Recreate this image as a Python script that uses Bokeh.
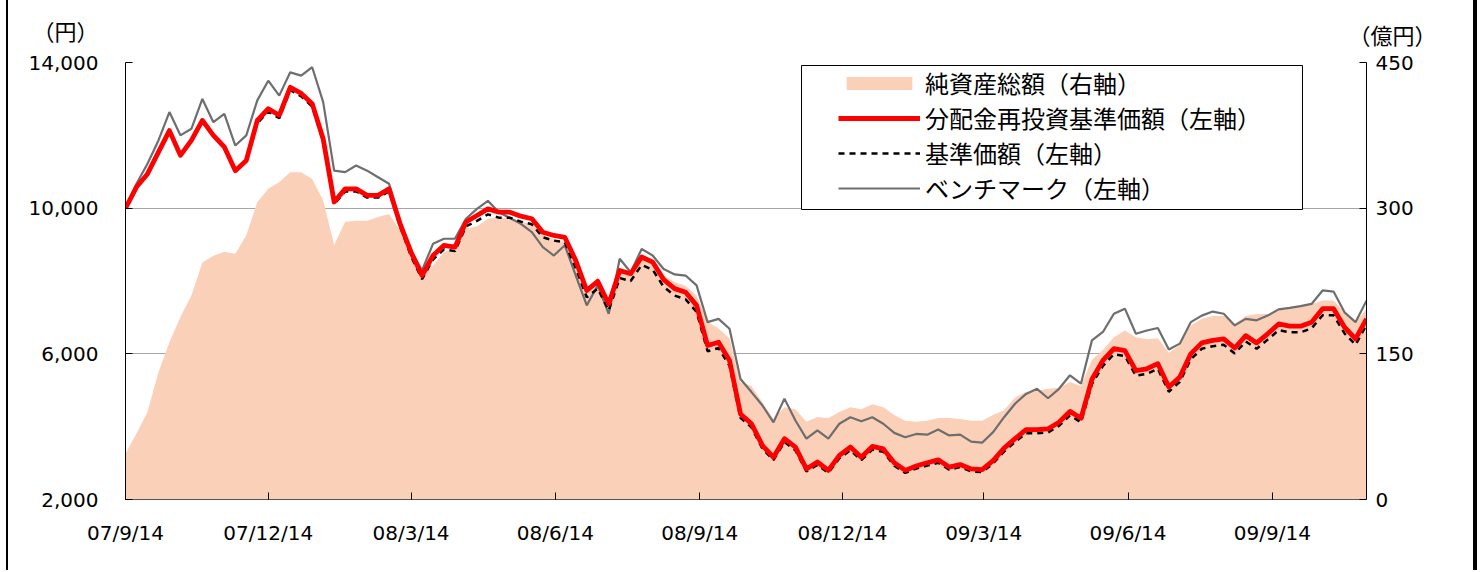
import pandas as pd
from bokeh.plotting import figure
from bokeh.layouts import column
from bokeh.models import (Range1d, LinearAxis, FixedTicker, NumeralTickFormatter,
                          Legend, LegendItem, BoxAnnotation)
from bokeh.core.properties import value
from bokeh.embed import file_html
from bokeh.resources import INLINE

# ---------------- data ----------------
start_date = "2007-09-14"
end_date = "2009-11-13"
tick_dates = ["2007-09-14", "2007-12-14", "2008-03-14", "2008-06-14", "2008-09-14",
              "2008-12-14", "2009-03-14", "2009-06-14", "2009-09-14"]
tick_labels = ["07/9/14", "07/12/14", "08/3/14", "08/6/14", "08/9/14",
               "08/12/14", "09/3/14", "09/6/14", "09/9/14"]
left_ticks = [2000, 6000, 10000, 14000]
right_ticks = [0, 150, 300, 450]
unit_labels = ["（円）", "（億円）"]

# 分配金再投資基準価額 (円, weekly)
reinvested_nav = [
    10000, 10580, 10940, 11540, 12130, 11450, 11860, 12410, 12000, 11680,
    11030, 11310, 12410, 12730, 12550, 13320, 13150, 12870, 11900, 10170,
    10530, 10530, 10350, 10350, 10530, 9570, 8790, 8150, 8700, 8980,
    8930, 9620, 9800, 9980, 9890, 9890, 9780, 9710, 9340, 9250,
    9200, 8560, 7740, 7990, 7370, 8290, 8200, 8660, 8520, 8040,
    7790, 7690, 7330, 6230, 6320, 5820, 4350, 4080, 3480, 3160,
    3670, 3440, 2840, 3030, 2800, 3210, 3440, 3160, 3460, 3390,
    3010, 2800, 2920, 3010, 3090, 2890, 2960, 2840, 2820, 3070,
    3410, 3670, 3920, 3920, 3940, 4120, 4420, 4230, 5300, 5820,
    6140, 6090, 5540, 5590, 5730, 5090, 5360, 6000, 6300, 6370,
    6410, 6160, 6500, 6300, 6550, 6820, 6760, 6760, 6870, 7240,
    7240, 6730, 6410, 6960]

# 基準価額 (円)
nav = [
    10000, 10580, 10940, 11540, 12130, 11450, 11860, 12410, 12000, 11680,
    11030, 11310, 12330, 12650, 12470, 13240, 13070, 12790, 11830, 10110,
    10460, 10460, 10290, 10290, 10460, 9500, 8680, 8050, 8590, 8870,
    8820, 9500, 9650, 9830, 9740, 9740, 9630, 9560, 9200, 9110,
    9060, 8350, 7550, 7790, 7190, 8080, 8000, 8440, 8310, 7840,
    7600, 7500, 7150, 6070, 6160, 5670, 4240, 3980, 3390, 3080,
    3580, 3350, 2770, 2950, 2730, 3130, 3350, 3080, 3370, 3310,
    2930, 2730, 2850, 2930, 3010, 2820, 2890, 2770, 2750, 2990,
    3320, 3580, 3820, 3820, 3840, 4020, 4310, 4120, 5170, 5670,
    5990, 5940, 5400, 5450, 5590, 4960, 5230, 5850, 6140, 6210,
    6250, 6010, 6340, 6140, 6390, 6650, 6590, 6590, 6700, 7060,
    7060, 6560, 6250, 6790]

# ベンチマーク (円)
benchmark = [
    10000, 10670, 11220, 11860, 12640, 12000, 12180, 13000, 12360, 12590,
    11720, 12000, 12960, 13500, 13090, 13730, 13640, 13870, 12910, 11030,
    10990, 11170, 11030, 10850, 10670, 9660, 8840, 8290, 9020, 9160,
    9160, 9710, 9980, 10200, 9890, 9730, 9570, 9340, 8930, 8700,
    8980, 8150, 7330, 7880, 7100, 8610, 8240, 8880, 8700, 8330,
    8180, 8150, 7880, 6870, 6960, 6690, 5310, 4950, 4580, 4120,
    4770, 4170, 3670, 3900, 3670, 4080, 4260, 4150, 4260, 4080,
    3830, 3710, 3800, 3780, 3920, 3760, 3780, 3590, 3560, 3850,
    4260, 4630, 4900, 5040, 4780, 5040, 5410, 5180, 6370, 6600,
    7100, 7240, 6550, 6640, 6710, 6120, 6280, 6870, 7050, 7160,
    7100, 6780, 6960, 6920, 7050, 7220, 7260, 7310, 7370, 7740,
    7710, 7140, 6870, 7460]

# 純資産総額 (億円)
net_assets = [
    47, 68, 90, 131, 162, 188, 210, 244, 251, 255,
    253, 272, 306, 320, 327, 337, 337, 330, 308, 262,
    286, 287, 287, 291, 294, 277, 251, 231, 241, 255,
    258, 279, 281, 289, 291, 289, 286, 284, 272, 268,
    265, 244, 215, 229, 203, 234, 234, 248, 248, 231,
    224, 220, 210, 183, 176, 166, 121, 117, 100, 83,
    95, 93, 80, 85, 84, 90, 95, 93, 98, 95,
    87, 81, 80, 81, 84, 84, 83, 81, 81, 87,
    92, 105, 111, 112, 114, 115, 121, 117, 144, 154,
    167, 174, 167, 165, 166, 151, 159, 179, 186, 189,
    189, 181, 189, 191, 191, 195, 197, 200, 201, 205,
    205, 193, 183, 196]

legend_labels = ["純資産総額（右軸）", "分配金再投資基準価額（左軸）",
                 "基準価額（左軸）", "ベンチマーク（左軸）"]

# ---------------- geometry ----------------
t0 = pd.Timestamp(start_date)
dates = pd.date_range(start_date, periods=len(reinvested_nav), freq="7D")
x = [(d - t0).days for d in dates]
ticks = [(pd.Timestamp(d) - t0).days for d in tick_dates]
x_end = (pd.Timestamp(end_date) - t0).days

FONT = "Noto Sans CJK JP"
NUMFONT = "DejaVu Sans"
AREA = "#FBD0B9"
CANVAS_W = 1467
HDR_H = 50
BARS = {"margin-left": "8px",
        "box-shadow": "-2px 0 0 0 #000000, 2px 0 0 0 #000000, inset -2px 0 0 0 #000000"}

# header strip carrying the axis unit texts
hdr = figure(width=CANVAS_W, height=HDR_H, x_range=Range1d(0, CANVAS_W),
             y_range=Range1d(0, HDR_H), output_backend="svg", toolbar_location=None,
             x_axis_type=None, y_axis_type=None, min_border=0,
             min_border_left=0, min_border_right=0, min_border_top=0,
             min_border_bottom=0, background_fill_alpha=0, border_fill_alpha=0)
hdr.frame_align = False
hdr.outline_line_color = None
hdr.styles = dict(BARS)
hdr.text(x=[57, 1384], y=[HDR_H - 29, HDR_H - 33], text=unit_labels,
         text_align="center", text_baseline="middle",
         text_font=value(FONT), text_font_size="22px", text_color="black")

# main chart
p = figure(frame_width=1241, frame_height=437,
           x_range=Range1d(0, x_end), y_range=Range1d(2000, 14000),
           output_backend="svg", toolbar_location=None,
           min_border_left=117, min_border_right=CANVAS_W - 117 - 1241,
           min_border_top=62 - HDR_H, min_border_bottom=71,
           background_fill_color="white", border_fill_alpha=0)
p.frame_align = False
p.styles = dict(BARS)
p.outline_line_color = None
p.extra_y_ranges = {"right": Range1d(0, 450)}

area = p.varea(x=x, y1=[0] * len(x), y2=net_assets, y_range_name="right",
               fill_color=AREA, fill_alpha=1.0)
bm = p.line(x, benchmark, line_color="#6E6E6E", line_width=2.2)
nv = p.line(x, nav, line_color="black", line_width=2.5, line_dash="6 5")
rn = p.line(x, reinvested_nav, line_color="#FF0000", line_width=4.8,
            line_join="round")

xa = p.xaxis[0]
xa.ticker = FixedTicker(ticks=ticks)
xa.major_label_overrides = {t: l for t, l in zip(ticks, tick_labels)}
ya = p.yaxis[0]
ya.ticker = FixedTicker(ticks=left_ticks)
ya.formatter = NumeralTickFormatter(format="0,0")
ra = LinearAxis(y_range_name="right", ticker=FixedTicker(ticks=right_ticks))
p.add_layout(ra, "right")

for ax in (xa, ya, ra):
    ax.major_tick_in = 7
    ax.major_tick_out = 0
    ax.minor_tick_in = 0
    ax.minor_tick_out = 0
    ax.axis_line_color = "black"
    ax.major_tick_line_color = "black"
    ax.major_label_text_font = NUMFONT
    ax.major_label_text_font_size = "20px"
    ax.major_label_text_color = "black"
xa.axis_line_color = "#555555"
xa.major_label_standoff = 21
ya.major_label_standoff = 27
ra.major_label_standoff = 9

p.xgrid.visible = False
p.ygrid.ticker = FixedTicker(ticks=left_ticks)
p.ygrid.grid_line_color = "#A6A6A6"
p.ygrid.grid_line_width = 1

# legend frame (white box with black border)
px_per_day = 1241 / x_end
yen_per_px = 12000 / 437
box = BoxAnnotation(left=(801 - 125) / px_per_day, right=(1302 - 125) / px_per_day,
                    top=14000 - 3 * yen_per_px, bottom=14000 - 147 * yen_per_px,
                    fill_color="white", fill_alpha=1.0,
                    line_color="black", line_width=1, line_alpha=1.0)
p.add_layout(box)

legend = Legend(items=[LegendItem(label=legend_labels[0], renderers=[area]),
                       LegendItem(label=legend_labels[1], renderers=[rn]),
                       LegendItem(label=legend_labels[2], renderers=[nv]),
                       LegendItem(label=legend_labels[3], renderers=[bm])],
                location=(713, 294), padding=0, margin=0, spacing=0,
                glyph_width=82, glyph_height=16, label_height=30,
                label_standoff=5, label_text_font=FONT,
                label_text_font_size="24px", label_text_color="black",
                border_line_alpha=0, background_fill_alpha=0)
p.add_layout(legend)

layout = column(hdr, p, spacing=0)
open("out.html", "w").write(file_html(layout, INLINE))
